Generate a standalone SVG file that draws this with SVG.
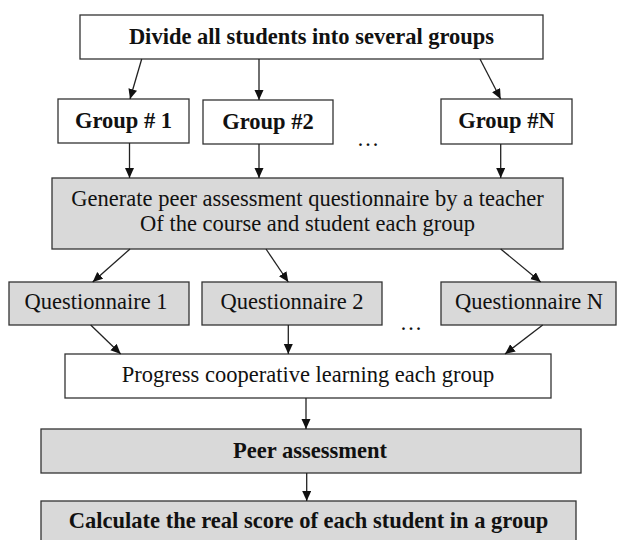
<svg xmlns="http://www.w3.org/2000/svg" width="617" height="540" viewBox="0 0 617 540">
  <style>
    .box { stroke: #333; stroke-width: 1.3; }
    .plain { fill: #ffffff; }
    .shaded { fill: #d9d9d9; }
    .lbl { font-family: "Liberation Serif", "Times New Roman", serif; font-size: 22.5px; fill: #111; text-anchor: middle; }
    .b { font-weight: bold; }
    .edge { stroke: #222; stroke-width: 1.3; fill: none; marker-end: url(#head); }
  </style>
  <defs>
    <marker id="head" markerUnits="userSpaceOnUse" markerWidth="11" markerHeight="10" refX="10" refY="4.5" orient="auto">
      <path d="M0,0 L10,4.5 L0,9 z" fill="#111"/>
    </marker>
  </defs>
  <rect width="617" height="540" fill="#ffffff"/>

  <g id="divide">
    <rect class="box plain" x="80" y="15" width="463" height="44"/>
    <text class="lbl b" x="311.5" y="44">Divide all students into several groups</text>
  </g>

  <g id="group1">
    <rect class="box plain" x="58" y="99" width="131" height="44"/>
    <text class="lbl b" x="123.5" y="128">Group # 1</text>
  </g>
  <g id="group2">
    <rect class="box plain" x="203" y="100" width="130" height="44"/>
    <text class="lbl b" x="268" y="129">Group #2</text>
  </g>
  <g id="groupN">
    <rect class="box plain" x="441" y="99" width="131" height="45"/>
    <text class="lbl b" x="506.5" y="128">Group #N</text>
  </g>
  <text class="lbl" x="368" y="146" font-size="20">…</text>

  <g id="generate">
    <rect class="box shaded" x="52" y="178" width="511" height="71"/>
    <text class="lbl" x="307.5" y="206">Generate peer assessment questionnaire by a teacher</text>
    <text class="lbl" x="307.5" y="231">Of the course and student each group</text>
  </g>

  <g id="questionnaire1">
    <rect class="box shaded" x="9" y="282" width="180" height="43"/>
    <text class="lbl" x="96" y="309">Questionnaire 1</text>
  </g>
  <g id="questionnaire2">
    <rect class="box shaded" x="202" y="282" width="180" height="43"/>
    <text class="lbl" x="292" y="309">Questionnaire 2</text>
  </g>
  <g id="questionnaireN">
    <rect class="box shaded" x="441" y="282" width="175" height="43"/>
    <text class="lbl" x="529" y="309">Questionnaire N</text>
  </g>
  <text class="lbl" x="411" y="330" font-size="20">…</text>

  <g id="progress">
    <rect class="box plain" x="65" y="354" width="486" height="44"/>
    <text class="lbl" x="308" y="382">Progress cooperative learning each group</text>
  </g>

  <g id="peer">
    <rect class="box shaded" x="41" y="429" width="540" height="44"/>
    <text class="lbl b" x="310" y="458">Peer assessment</text>
  </g>

  <g id="calculate">
    <rect class="box shaded" x="41" y="501" width="535" height="50"/>
    <text class="lbl b" x="308.5" y="528">Calculate the real score of each student in a group</text>
  </g>

  <g id="connectors">
    <line class="edge" x1="141.7" y1="59" x2="130" y2="99"/>
    <line class="edge" x1="259" y1="59" x2="259" y2="100"/>
    <line class="edge" x1="480" y1="59" x2="500.7" y2="99"/>
    <line class="edge" x1="129.5" y1="143" x2="129.5" y2="178"/>
    <line class="edge" x1="259" y1="144" x2="259" y2="178"/>
    <line class="edge" x1="500.7" y1="144" x2="500.7" y2="178"/>
    <line class="edge" x1="130" y1="249" x2="92.7" y2="282"/>
    <line class="edge" x1="266" y1="249" x2="288.3" y2="282"/>
    <line class="edge" x1="500.7" y1="249" x2="540.7" y2="282"/>
    <line class="edge" x1="90.7" y1="325" x2="120.7" y2="354"/>
    <line class="edge" x1="288.3" y1="325" x2="288.3" y2="354"/>
    <line class="edge" x1="542.7" y1="325" x2="505" y2="354"/>
    <line class="edge" x1="306" y1="398" x2="306" y2="429"/>
    <line class="edge" x1="306.7" y1="473" x2="306.7" y2="501"/>
  </g>
</svg>
